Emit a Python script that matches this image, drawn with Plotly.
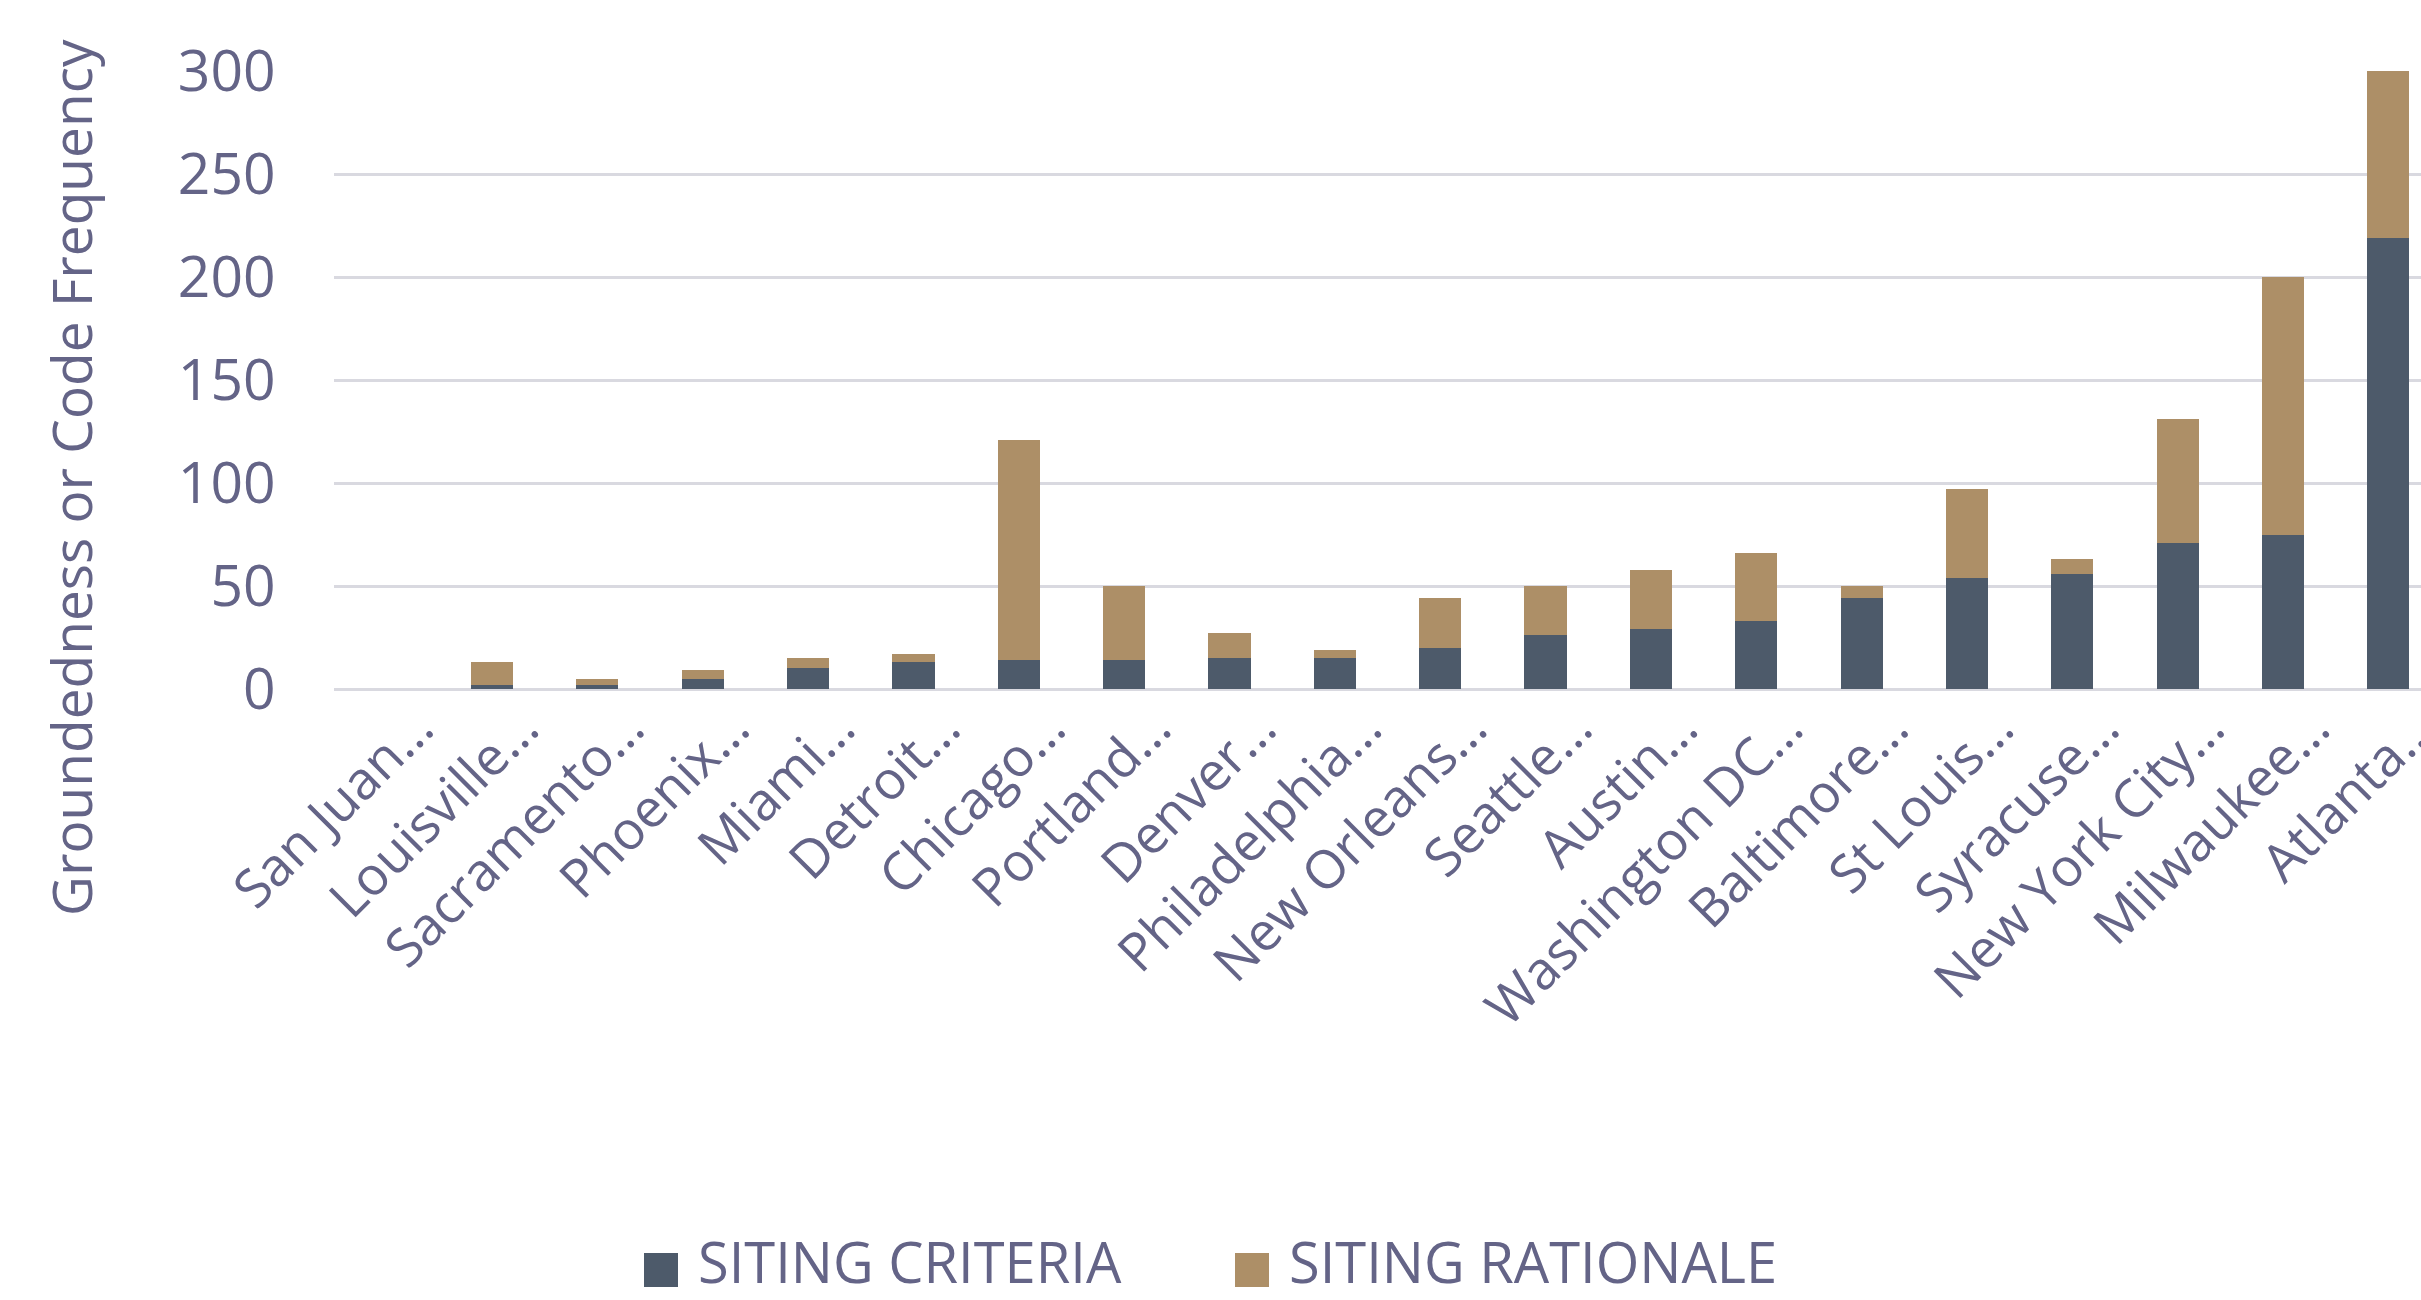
import plotly.graph_objects as go

cities = ["San Juan…", "Louisville…", "Sacramento…", "Phoenix…", "Miami…", "Detroit…",
          "Chicago…", "Portland…", "Denver…", "Philadelphia…", "New Orleans…", "Seattle…",
          "Austin…", "Washington DC…", "Baltimore…", "St Louis…", "Syracuse…",
          "New York City…", "Milwaukee…", "Atlanta…"]
siting_criteria = [0, 2, 2, 5, 10, 13, 14, 14, 15, 15, 20, 26, 29, 33, 44, 54, 56, 71, 75, 219]
siting_rationale = [0, 11, 3, 4, 5, 4, 107, 36, 12, 4, 24, 24, 29, 33, 6, 43, 7, 60, 125, 81]
y_ticks = [0, 50, 100, 150, 200, 250, 300]

C_CRIT = "#4d5a6a"
C_RAT = "#ad8f67"
TXT = "#646487"
FONT = "Open Sans"

fig = go.Figure()
fig.add_trace(go.Bar(x=cities, y=siting_criteria, name="SITING CRITERIA",
                     marker=dict(color=C_CRIT, line=dict(width=0)), showlegend=False))
fig.add_trace(go.Bar(x=cities, y=siting_rationale, name="SITING RATIONALE",
                     marker=dict(color=C_RAT, line=dict(width=0)), showlegend=False))

W, H = 2421, 1300
ml, mr, mt, mb = 334, 0, 71, 611
plot_w = W - ml - mr
plot_h = H - mt - mb

fig.update_layout(
    width=W, height=H,
    barmode="stack", bargap=0.6,
    plot_bgcolor="white", paper_bgcolor="white",
    margin=dict(l=ml, r=mr, t=mt, b=mb, autoexpand=False),
    font=dict(family=FONT, color=TXT),
    xaxis=dict(range=[-0.5, 19.31], tickangle=-45, tickfont=dict(size=53, color=TXT),
               showgrid=False, showline=False, ticks="", ticklabelshift=31,
               ticklabelstandoff=-4, zeroline=False),
    yaxis=dict(range=[0, 300], tickvals=y_ticks, tickfont=dict(size=57, color=TXT),
               showgrid=True, gridcolor="#d9d9e0", gridwidth=3,
               zeroline=True, zerolinecolor="#d9d9e0", zerolinewidth=3,
               ticks="outside", ticklen=46, tickcolor="rgba(0,0,0,0)", showline=False),
    showlegend=False,
)

# y-axis title
fig.add_annotation(text="Groundedness or Code Frequency", xref="paper", yref="paper",
                   x=(70 - ml) / plot_w, y=(689 - 478) / plot_h, textangle=-90,
                   showarrow=False, xanchor="center", yanchor="middle",
                   font=dict(size=55, color=TXT, family=FONT))

# legend (drawn manually for large swatches)
def px_x(px):
    return (px - ml) / plot_w

def px_y(py):
    return (H - mb - py) / plot_h

leg_y = 1261
sw = 34
for x0, col, label in [(644, C_CRIT, "SITING CRITERIA"), (1235, C_RAT, "SITING RATIONALE")]:
    fig.add_shape(type="rect", xref="paper", yref="paper",
                  x0=px_x(x0), x1=px_x(x0 + sw), y0=px_y(leg_y + 9 + sw / 2), y1=px_y(leg_y + 9 - sw / 2),
                  fillcolor=col, line=dict(width=0))
    fig.add_annotation(text=label, xref="paper", yref="paper", x=px_x(x0 + sw + 18),
                       y=px_y(leg_y), xanchor="left", yanchor="middle", showarrow=False,
                       font=dict(size=56, color=TXT, family=FONT))

fig.write_html("out.html")
